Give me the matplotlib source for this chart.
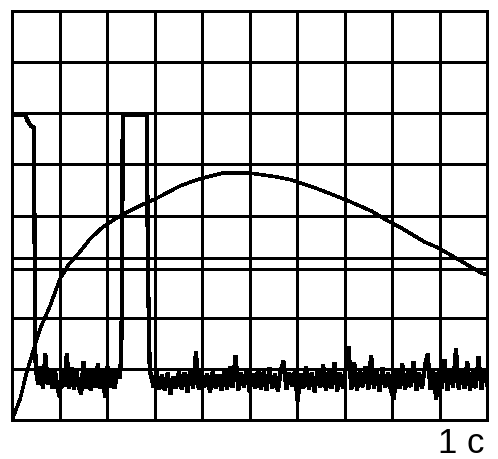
import numpy as np
import matplotlib
matplotlib.use("Agg")
import matplotlib.pyplot as plt

# Grid (oscilloscope divisions)
x_divs = list(range(0, 11))
y_divs = [0, 1, 2, 2.95, 3.17, 4, 5, 6, 7, 8]

# Smooth curve (divisions)
curve_x = [0.0, 0.17, 0.30, 0.44, 0.59, 0.80, 1.01, 1.20, 1.43, 1.65, 1.92, 2.27, 2.69,
           3.05, 3.54, 3.96, 4.44, 5.01, 5.54, 5.87, 6.38, 6.72, 7.07, 7.56, 7.92,
           8.19, 8.69, 8.97, 9.45, 9.87, 10.0]
curve_y = [0.0, 0.41, 0.90, 1.33, 1.78, 2.23, 2.76, 3.05, 3.29, 3.55, 3.78, 3.99, 4.19,
           4.34, 4.58, 4.72, 4.83, 4.83, 4.76, 4.70, 4.54, 4.42, 4.29, 4.09, 3.89,
           3.76, 3.48, 3.37, 3.11, 2.88, 2.84]

# Pulse trace: high level segments and edges
pulse1_x = [0.0, 0.27, 0.33, 0.40, 0.46, 0.48, 0.49]
pulse1_y = [5.97, 5.97, 5.85, 5.75, 5.72, 3.0, 1.4]
pulse2_x = [2.27, 2.30, 2.32, 2.33, 2.84, 2.86, 2.90]
pulse2_y = [0.85, 1.30, 3.0, 5.97, 5.97, 3.0, 0.95]

# Noise segment 1 (between pulses)
noise1_start, noise1_end = 0.50, 2.26
noise1 = [1.00, 0.70, 1.05, 0.62, 1.29, 0.70, 1.00, 0.62, 0.98, 0.66,
          0.45, 0.95, 0.65, 1.29, 0.62, 1.02, 0.60, 0.95, 0.66, 0.51,
          1.15, 0.62, 0.98, 0.58, 1.00, 0.64, 1.10, 0.62, 0.96, 0.45,
          1.05, 0.64, 0.98, 0.62, 0.90, 0.85]

# Noise segment 2 (after second pulse)
noise2_start, noise2_end = 2.92, 10.0
noise2 = [0.90, 0.65, 0.95, 0.60, 0.88, 0.58, 0.92, 0.50, 0.85, 0.62,
          0.95, 0.60, 0.92, 0.55, 0.98, 0.62, 1.33, 0.60, 0.95, 0.65,
          0.90, 0.55, 0.96, 0.62, 0.88, 0.58, 0.97, 0.60, 1.05, 0.63,
          1.26, 0.58, 0.92, 0.65, 0.98, 0.55, 0.90, 0.62, 1.00, 0.60,
          0.94, 0.58, 1.02, 0.62, 0.90, 0.56, 0.96, 1.15, 0.60, 0.93,
          0.66, 0.95, 0.37, 0.90, 0.62, 1.05, 0.60, 0.92, 0.55, 0.98,
          0.64, 1.08, 0.58, 0.95, 0.62, 1.12, 0.57, 0.92, 0.63, 1.00,
          1.43, 0.60, 1.12, 0.58, 0.96, 0.65, 1.05, 0.60, 1.26, 0.62,
          0.95, 0.56, 1.02, 0.64, 0.92, 0.58, 0.41, 0.98, 0.62, 1.10,
          0.60, 0.95, 0.65, 1.15, 0.58, 0.92, 0.62, 1.05, 1.29, 0.60,
          0.95, 0.41, 1.00, 0.62, 1.18, 0.58, 0.94, 0.64, 1.39, 0.60,
          0.98, 0.62, 1.15, 0.58, 0.96, 0.63, 1.23, 0.60, 0.95, 0.70]

label = "1 c"

W, H = 498, 460
fig = plt.figure(figsize=(W / 100, H / 100), dpi=100)
fig.patch.set_facecolor("white")
ax = fig.add_axes([12 / W, 39 / H, (487 - 12) / W, (421 - 12) / H])
ax.set_xlim(0, 10)
ax.set_ylim(0, 8)
ax.axis("off")

grid_lw = 1.9
for xv in x_divs:
    ax.axvline(xv, color="black", lw=grid_lw, antialiased=False, clip_on=False)
for yv in y_divs:
    ax.axhline(yv, color="black", lw=grid_lw, antialiased=False, clip_on=False)

ax.plot(curve_x, curve_y, color="black", lw=1.8, antialiased=False)

n1x = np.linspace(noise1_start, noise1_end, len(noise1))
n2x = np.linspace(noise2_start, noise2_end, len(noise2))
trace_x = list(pulse1_x) + list(n1x) + list(pulse2_x) + list(n2x)
trace_y = list(pulse1_y) + list(noise1) + list(pulse2_y) + list(noise2)
ax.plot(trace_x, trace_y, color="black", lw=2.3, antialiased=False,
        solid_joinstyle="miter")

fig.text(484 / W, 7 / H, label, ha="right", va="baseline",
         fontsize=25, family="Liberation Sans", color="black")

fig.savefig("out.png", dpi=100, facecolor="white")
